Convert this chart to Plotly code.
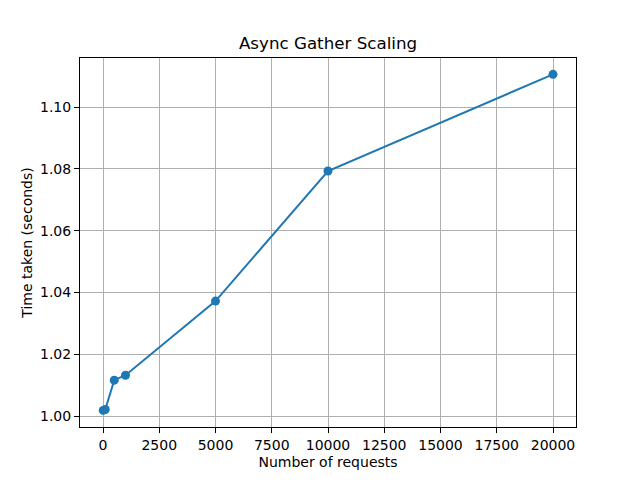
import plotly.graph_objects as go

requests = [10, 100, 500, 1000, 5000, 10000, 20000]
time_taken = [1.0018, 1.0021, 1.0116, 1.0132, 1.0372, 1.0793, 1.1106]
x_ticks = [0, 2500, 5000, 7500, 10000, 12500, 15000, 17500, 20000]
y_ticks = [1.00, 1.02, 1.04, 1.06, 1.08, 1.10]

fig = go.Figure()
fig.add_trace(go.Scatter(
    x=requests, y=time_taken, mode="lines+markers",
    line=dict(color="#1f77b4", width=2),
    marker=dict(color="#1f77b4", size=9),
    showlegend=False,
))

axis_common = dict(
    showline=True, linecolor="black", linewidth=1, mirror=True,
    ticks="outside", ticklen=5, tickwidth=1, tickcolor="black",
    showgrid=True, gridcolor="#b0b0b0", gridwidth=1,
    zeroline=False,
    tickfont=dict(family="DejaVu Sans", size=14, color="black"),
    title_font=dict(family="DejaVu Sans", size=14, color="black"),
)

fig.update_layout(
    width=640, height=480,
    margin=dict(l=80, r=64, t=58, b=53),
    paper_bgcolor="white", plot_bgcolor="white",
    title=dict(text="Async Gather Scaling", x=0.5, xref="paper", xanchor="center",
               y=1 - 43 / 480, yanchor="middle",
               font=dict(family="DejaVu Sans", size=16.7, color="black")),
    xaxis=dict(range=[-1022, 21022], tickvals=x_ticks,
               ticktext=[str(v) for v in x_ticks],
               title=dict(text="Number of requests", standoff=5), **axis_common),
    yaxis=dict(range=[0.99644, 1.1159], tickvals=y_ticks,
               ticktext=[f"{v:.2f}" for v in y_ticks],
               title=dict(text="Time taken (seconds)", standoff=4), **axis_common),
)

fig.write_html("out.html")
